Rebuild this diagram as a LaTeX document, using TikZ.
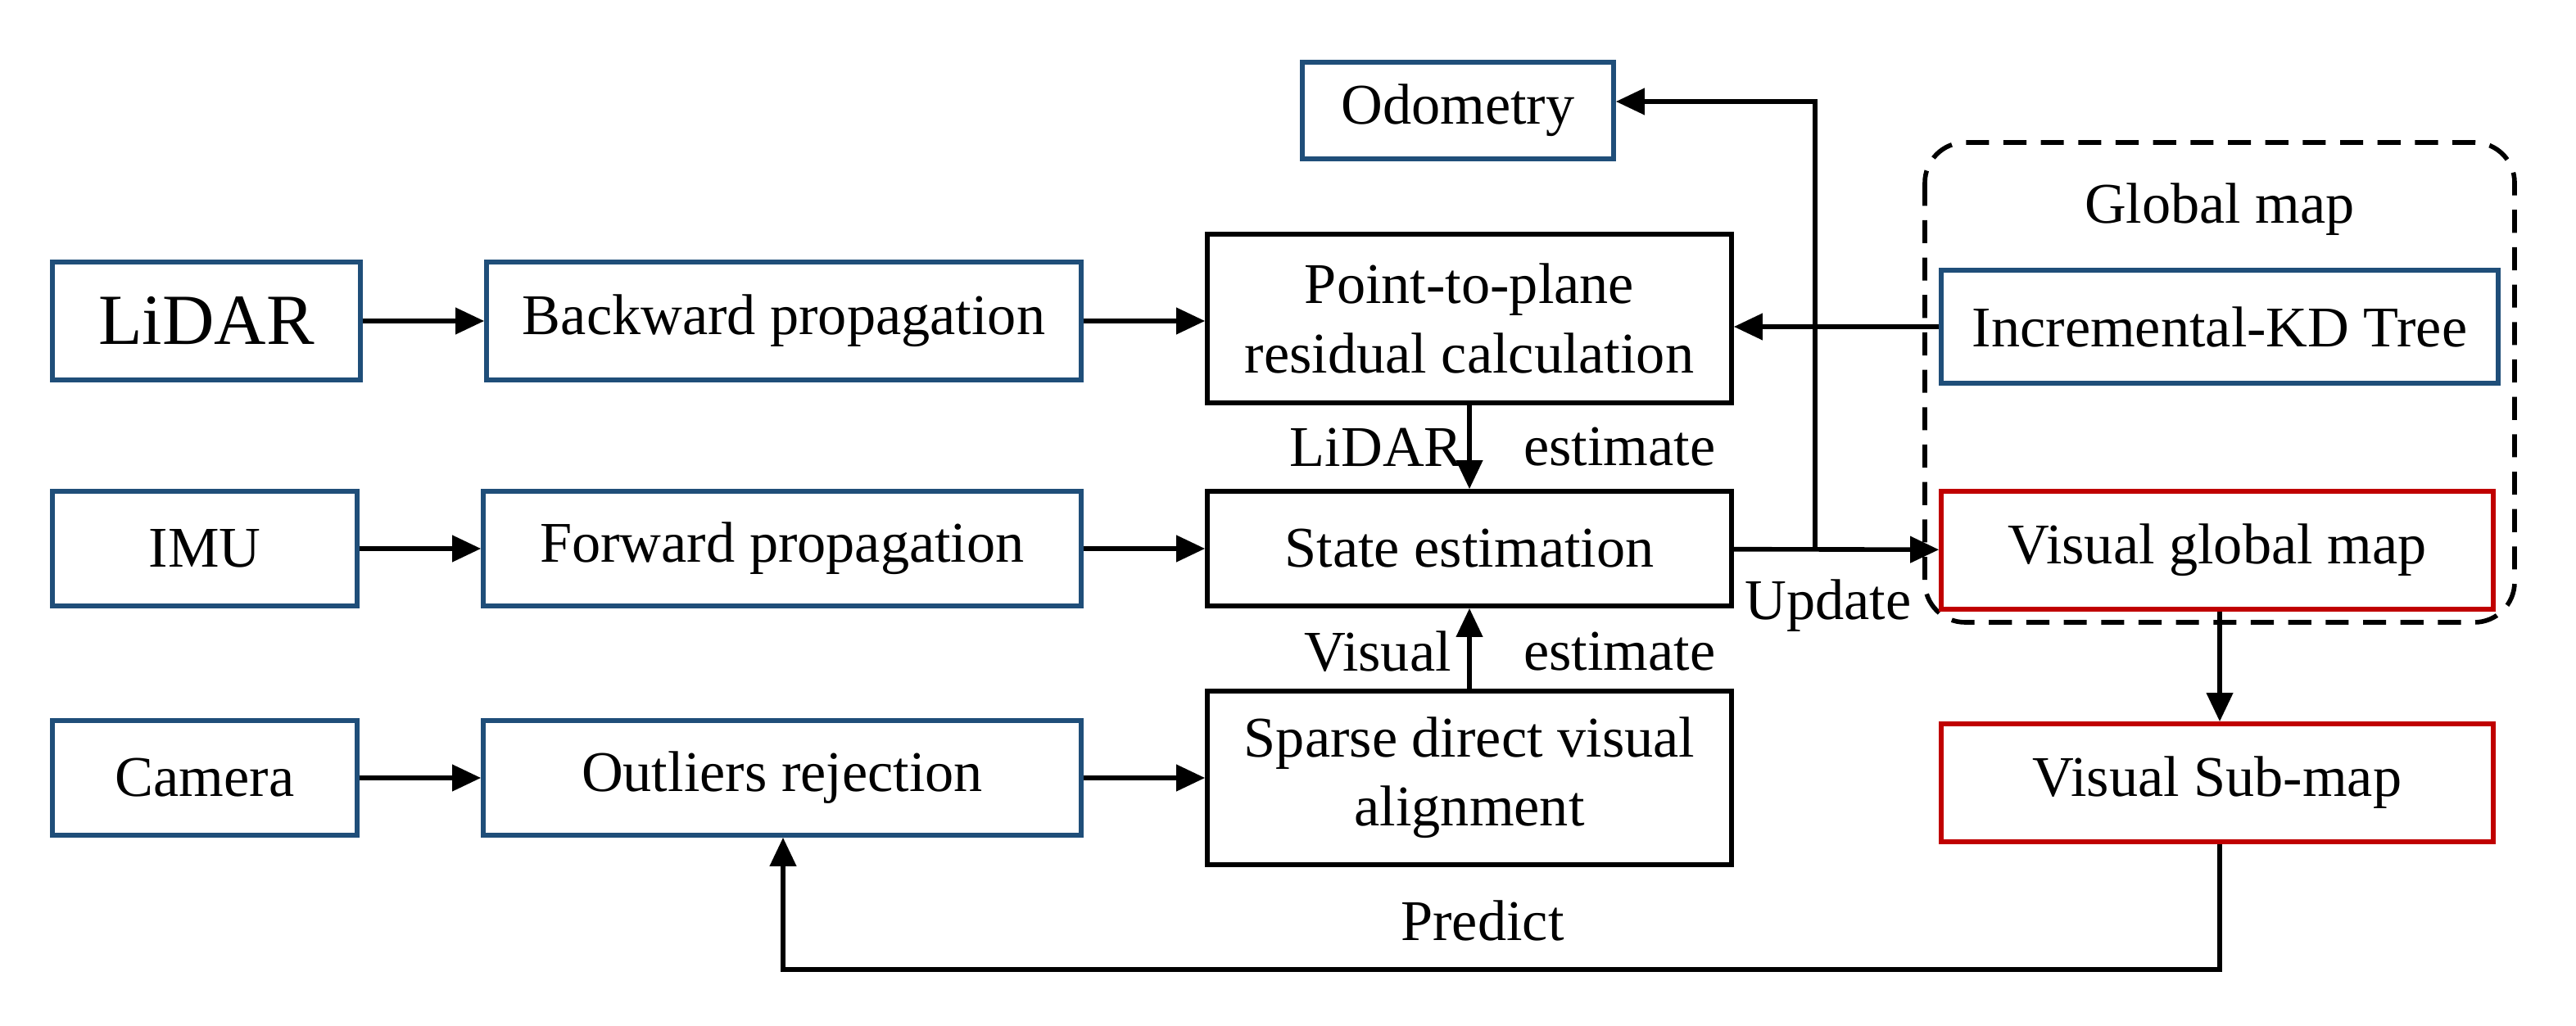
\documentclass[tikz,border=0pt]{standalone}
\usepackage{fontspec}
\setmainfont{Liberation Serif}
\usetikzlibrary{arrows.meta}
\definecolor{bl}{RGB}{31,78,121}
\definecolor{rd}{RGB}{192,0,0}
\begin{document}
\begin{tikzpicture}[x=0.02cm,y=-0.02cm,
  base/.style={draw,line width=1.6pt,inner sep=0pt,align=center,font=\fontsize{20}{24}\selectfont},
  bbox/.style={base,draw=bl},
  rbox/.style={base,draw=rd},
  kbox/.style={base,draw=black},
  arr/.style={line width=1.6pt,-{Triangle[length=10pt,width=9pt]}},
  lab/.style={font=\fontsize{20}{24}\selectfont,inner sep=1pt}]
\useasboundingbox (0,0) rectangle (1572.5,626.5);
\newcommand{\bx}[6]{\node[#1,minimum width={(#4-#3)*0.02cm},minimum height={(#6-#5)*0.02cm}] (#2) at ({(#3+#4)/2},{(#5+#6)/2})}
\bx{bbox}{lidar}{32}{220}{160}{232} {\fontsize{25}{29}\selectfont LiDAR};
\bx{bbox}{back}{297}{660}{160}{232} {Backward propagation};
\bx{kbox}{p2p}{737}{1057}{143}{246} {Point-to-plane\\residual calculation};
\bx{bbox}{odo}{795}{985}{38}{97} {Odometry};
\draw[dash pattern=on 8pt off 5pt,line width=1.6pt,rounded corners=14pt] (1175,87) rectangle (1535,380);
\node[lab] (gm) at (1355,128) {Global map};
\bx{bbox}{kd}{1185}{1525}{165}{234} {Incremental-KD Tree};
\bx{bbox}{imu}{32}{218}{300}{370} {IMU};
\bx{bbox}{fwd}{295}{660}{300}{370} {Forward propagation};
\bx{kbox}{state}{737}{1057}{300}{370} {State estimation};
\bx{rbox}{vgm}{1185}{1522}{300}{372} {Visual global map};
\bx{bbox}{cam}{32}{218}{440}{510} {Camera};
\bx{bbox}{out}{295}{660}{440}{510} {Outliers rejection};
\bx{kbox}{sparse}{737}{1057}{422}{528} {Sparse direct visual\\alignment};
\bx{rbox}{sub}{1185}{1522}{442}{514} {Visual Sub-map};
\draw[arr] (lidar) -- (back);
\draw[arr] (back) -- (back -| p2p.west);
\draw[arr] (kd.west) -- (kd.west -| p2p.east);
\draw[arr] (p2p) -- (state);
\node[lab,anchor=east] at (895,273) {LiDAR};
\node[lab,anchor=west] at (928,273) {estimate};
\draw[arr] (imu) -- (fwd);
\draw[arr] (fwd) -- (fwd -| state.west);
\draw[arr] (state) -- (vgm);
\coordinate (j) at (1108,335);
\coordinate (jt) at (1108,62);
\draw[arr] (j) -- (jt) -- (jt -| odo.east);
\node[lab] at (1116,370) {Update};
\draw[arr] (sparse) -- (state);
\node[lab,anchor=east] at (888,398) {Visual};
\node[lab,anchor=west] at (928,398) {estimate};
\draw[arr] (cam) -- (out);
\draw[arr] (out) -- (out -| sparse.west);
\draw[arr] (vgm.south -| 1355,0) -- (sub.north -| 1355,0);
\coordinate (b1) at (1355,592);
\coordinate (b2) at (478,592);
\draw[arr] (sub.south -| b1) -- (b1) -- (b2) -- (out.south -| b2);
\node[lab] at (905,562) {Predict};
\end{tikzpicture}
\end{document}
